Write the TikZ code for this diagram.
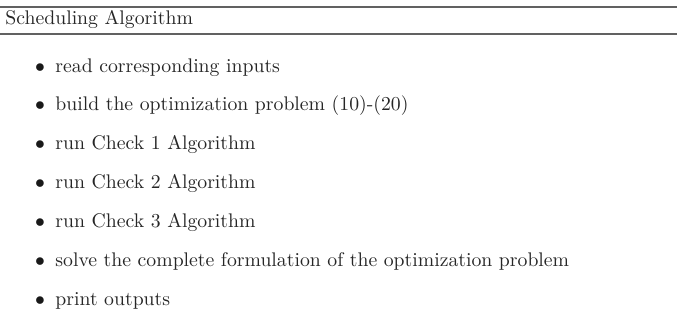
\documentclass[tikz,border=0pt]{standalone}
\begin{document}
% one unit = one pixel of the 677 x 333 canvas; text stays at 10pt
\begin{tikzpicture}[x=0.5068pt,y=-0.5068pt,
  rulestyle/.style={draw=black!62,line width=1pt},
  titletext/.style={anchor=base west,inner sep=0pt,text=black!85},
  itemtext/.style={anchor=base west,inner sep=0pt,text=black!85},
  bulletmark/.style={anchor=base east,inner sep=0pt,text=black!90}]
  \useasboundingbox (0,0) rectangle (677,333);

  % heading between two rules
  \coordinate (topL) at (0,7);
  \coordinate (topR) at (677,7);
  \coordinate (botL) at (0,34);
  \coordinate (botR) at (677,34);
  \draw[rulestyle] (topL) -- (topR);
  \draw[rulestyle] (botL) -- (botR);
  \node[titletext] (title) at (5,24.5) {Scheduling Algorithm};

  % steps of the algorithm
  \foreach \i/\txt in {
      0/{read corresponding inputs},
      1/{build the optimization problem (10)-(20)},
      2/{run Check 1 Algorithm},
      3/{run Check 2 Algorithm},
      4/{run Check 3 Algorithm},
      5/{solve the complete formulation of the optimization problem},
      6/{print outputs}} {
    \node[bulletmark] (b\i) at (45.5,{72+38.9*\i}) {$\bullet$};
    \node[itemtext] (s\i) at (55,{72+38.9*\i}) {\txt};
  }
\end{tikzpicture}
\end{document}
